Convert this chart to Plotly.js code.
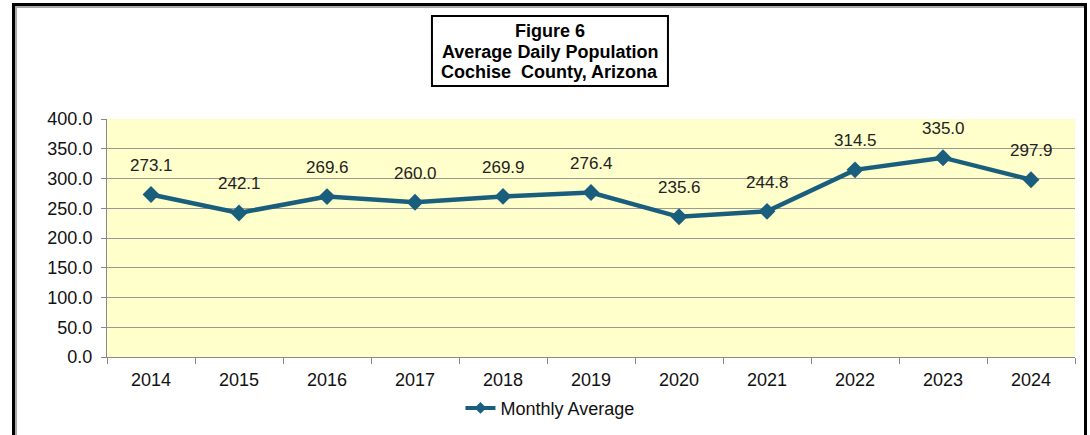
<!DOCTYPE html>
<html>
<head>
<meta charset="utf-8">
<script src="https://cdn.plot.ly/plotly-3.0.1.min.js"></script>
<style>
  html, body { margin: 0; padding: 0; background: #fff; }
  #frame { position: absolute; left: 12px; top: 3px; width: 1069px; height: 440px;
           border-left: 3px solid #000; border-top: 3px solid #000; border-right: 3px solid #000;
           box-shadow: inset 2px 2px 0 #aaa; }
  #chart { position: absolute; left: 0; top: 0; width: 1090px; height: 435px; }
</style>
</head>
<body>
<div id="frame"></div>
<div id="chart"></div>
<script>
const years = ['2014','2015','2016','2017','2018','2019','2020','2021','2022','2023','2024'];
const monthlyAverage = [273.1, 242.1, 269.6, 260.0, 269.9, 276.4, 235.6, 244.8, 314.5, 335.0, 297.9];
const seriesName = 'Monthly Average';
const titleLines = ['Figure 6', 'Average Daily Population', 'Cochise  County, Arizona'];
const yTicks = [0, 50, 100, 150, 200, 250, 300, 350, 400];

const lineColor = '#1A5E7E';
const font = 'Arial, "Liberation Sans", sans-serif';
const textColor = '#111';

const trace = {
  x: years, y: monthlyAverage, type: 'scatter', mode: 'lines+markers',
  name: seriesName, showlegend: false,
  line: { color: lineColor, width: 4.5 },
  marker: { symbol: 'diamond', size: 13, color: lineColor },
  cliponaxis: false
};
// legend entry (smaller symbol, as in the reference legend)
const legendTrace = {
  x: [null], y: [null], type: 'scatter', mode: 'lines+markers', name: seriesName, showlegend: true,
  line: { color: lineColor, width: 4 },
  marker: { symbol: 'diamond', size: 9, color: lineColor }
};

const labelAnnotations = years.map((yr, i) => ({
  x: i, y: monthlyAverage[i], xref: 'x', yref: 'y',
  text: monthlyAverage[i].toFixed(1), showarrow: false, yshift: 29,
  font: { family: font, size: 17, color: '#222' }
}));

const titleYs = [1.3697, 1.2815, 1.1954];
const titleAnnotations = titleLines.map((t, i) => ({
  xref: 'paper', yref: 'paper', x: 0.4576, y: titleYs[i], xanchor: 'center', yanchor: 'middle',
  text: '<b>' + t + '</b>', showarrow: false,
  font: { family: font, size: 18, color: '#000' }
}));

const layout = {
  width: 1090, height: 435,
  margin: { l: 107, r: 15, t: 119, b: 78, autoexpand: false },
  paper_bgcolor: 'rgba(0,0,0,0)',
  plot_bgcolor: '#FFFFCC',
  font: { family: font, size: 18, color: textColor },
  showlegend: true,
  legend: { orientation: 'h', x: 0.4576, xanchor: 'center',
            yref: 'container', y: 0.104, yanchor: 'top',
            font: { family: font, size: 18, color: textColor }, bgcolor: 'rgba(0,0,0,0)',
            itemwidth: 30 },
  xaxis: {
    type: 'category', range: [-0.5, years.length - 0.5], autorange: false,
    showgrid: false, showline: true, linecolor: '#888', linewidth: 1,
    ticks: 'outside', tickson: 'boundaries', ticklen: 6, tickcolor: '#888',
    ticklabelstandoff: 6,
    tickfont: { family: font, size: 18, color: textColor }, fixedrange: true
  },
  yaxis: {
    range: [0, 400], autorange: false, tickmode: 'array', tickvals: yTicks,
    ticktext: yTicks.map(v => v.toFixed(1)),
    showgrid: true, gridcolor: '#999', gridwidth: 1,
    showline: true, linecolor: '#888', linewidth: 1, zeroline: false,
    ticks: 'outside', ticklen: 5, tickcolor: '#888',
    ticklabelstandoff: 5,
    tickfont: { family: font, size: 18, color: textColor }, fixedrange: true
  },
  shapes: [{
    type: 'rect', xref: 'paper', yref: 'paper',
    x0: 0.3357, x1: 0.5795, y0: 1.1387, y1: 1.4328,
    line: { color: '#000', width: 2 }, fillcolor: '#fff', layer: 'below'
  }],
  annotations: titleAnnotations.concat(labelAnnotations)
};

Plotly.newPlot('chart', [trace, legendTrace], layout, { displayModeBar: false, staticPlot: true });
</script>
</body>
</html>
